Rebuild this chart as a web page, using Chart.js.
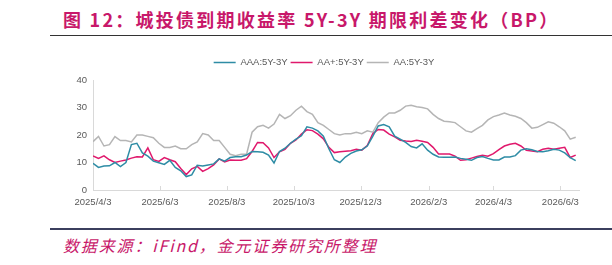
<!DOCTYPE html>
<html>
<head>
<meta charset="utf-8">
<script src="https://cdn.jsdelivr.net/npm/chart.js@4/dist/chart.umd.min.js"></script>
<style>
  html, body { margin: 0; padding: 0; background: #fff; }
  body { width: 612px; height: 265px; position: relative; overflow: hidden; }
  #title { position: absolute; left: 63px; top: 10px; font: bold 18px/18px "Noto Sans CJK SC", sans-serif; color: #c8186a; letter-spacing: 2.25px; white-space: nowrap; }
  #topline { position: absolute; left: 50px; top: 35px; width: 562px; height: 1px; background: #333; }
  #bottomline { position: absolute; left: 50px; top: 228px; width: 562px; height: 2px; background: #3b3f5e; }
  #source { position: absolute; left: 63px; top: 236px; font: italic 16px/18px "Noto Sans CJK SC", sans-serif; color: #c8186a; letter-spacing: 1.85px; white-space: nowrap; }
  #chart { position: absolute; left: 0; top: 40px; }
</style>
</head>
<body>
<div id="title">图 12：城投债到期收益率 5Y-3Y 期限利差变化（BP）</div>
<div id="topline"></div>
<canvas id="chart" width="612" height="175"></canvas>
<div id="bottomline"></div>
<div id="source">数据来源：iFind，金元证券研究所整理</div>
<script>
// days counted from 2025/4/3
const days = [
  0, 5, 10, 15, 20, 25, 30, 35, 40, 45,
  50, 55, 60, 65, 70, 75, 80, 85, 90, 95,
  100, 105, 110, 115, 120, 125, 130, 135, 140, 145,
  150, 155, 160, 165, 170, 175, 180, 185, 190, 195,
  200, 205, 210, 215, 220, 225, 230, 235, 240, 245,
  250, 255, 260, 265, 270, 275, 280, 285, 290, 295,
  300, 305, 310, 315, 320, 325, 330, 335, 340, 345,
  350, 355, 360, 365, 370, 375, 380, 385, 390, 395,
  400, 405, 410, 415, 420, 425, 430, 435, 440
];

const aaa = [
  9.7, 8.2, 8.7, 8.8, 10, 8.5, 10, 16.5, 17, 13.5,
  12.3, 10.5, 9.9, 9.3, 10.8, 8.2, 7, 4.9, 5.5, 9,
  8.7, 9.1, 9.5, 11.3, 10.5, 11.8, 12.1, 12.1, 12.7, 14,
  13.9, 13.7, 12.7, 9.8, 14, 15.2, 17, 18.5, 19.7, 23,
  22.5, 21.5, 19.6, 15, 11, 10, 12, 13.3, 14.2, 14.6,
  16, 19.5, 23.3, 23.8, 23, 19.6, 18.5, 17.3, 15.8, 15.3,
  16.8, 14.5, 13, 12, 11.9, 11.9, 12, 11.5, 11.2, 10.8,
  11.8, 12.2, 11.5, 10.9, 10.9, 12, 12, 12.5, 14.5, 15,
  14.6, 14, 13.9, 14.3, 14.8, 14.5, 13.5, 11.8, 10.7
];

const aaPlus = [
  12.4, 11.5, 12.4, 11, 10, 10.5, 10.9, 11.6, 12.1, 12,
  15.3, 11, 10.4, 11.8, 11, 10.3, 7.8, 5.6, 7.7, 8.6,
  6.8, 7.8, 9.1, 11.3, 10.2, 10.9, 10.8, 10.8, 11.4, 14,
  17.3, 17.2, 15.3, 11.8, 13.9, 14.8, 17, 18.2, 20.3, 21.9,
  21.6, 20.3, 18.6, 15.5, 13.6, 13.9, 14.1, 14.3, 14.8, 14.5,
  16.2, 20.5, 22, 21.8, 20.3, 19.3, 18.1, 17.8, 17.6, 18.1,
  17.7, 17.3, 15.5, 13.1, 13.1, 13.1, 12.3, 10.8, 11, 11.6,
  12.2, 12.6, 12.3, 13.2, 14.7, 16, 16.6, 17, 16, 14.4,
  14.2, 13.9, 14.8, 15.2, 14.8, 15.2, 15.5, 11.8, 12.7
];

const aa = [
  17.6, 19.5, 16, 16.5, 19.4, 18, 18, 17.5, 20, 20,
  19.5, 19, 17, 15.5, 15.5, 16, 15, 15, 16.5, 17.5,
  20.5, 20, 18, 18, 15.5, 13, 12.5, 13, 13, 21,
  23, 23.5, 22.5, 24, 27.5, 26, 27, 29, 30.5, 28.5,
  27.5, 24.5, 23.5, 22, 20.5, 20, 20.5, 20.5, 21, 20.5,
  21.5, 21, 24.5, 26.5, 28, 28, 29, 30.5, 30.8, 30.3,
  30, 29.5, 27.5, 26, 25, 24.8, 24.5, 23, 21.5, 21,
  22.3, 23.5, 25.5, 26.7, 27.3, 28, 27.3, 26.8, 26, 24.5,
  22.5, 22.8, 23.8, 24.8, 24.3, 23, 21.5, 18.5, 19.2
];

const tickDays = [0, 61, 122, 183, 244, 306, 365, 426];
const tickLabels = ['2025/4/3', '2025/6/3', '2025/8/3', '2025/10/3', '2025/12/3', '2026/2/3', '2026/4/3', '2026/6/3'];

const textColor = '#595959';
const axisColor = '#d9d9d9';
const tickFont = { family: 'Liberation Sans', size: 9.5 };

function toPoints(values) {
  return values.map((v, i) => ({ x: days[i], y: v }));
}

// push the plot area a bit lower than the legend
const legendSpace = {
  id: 'legendSpace',
  beforeInit(chart) {
    const fit = chart.legend.fit;
    chart.legend.fit = function () {
      fit.call(this);
      this.height += 2.75;
    };
  }
};

// small tick marks pointing up into the plot
const innerTicks = {
  id: 'innerTicks',
  afterDraw(chart) {
    const { ctx, chartArea } = chart;
    const x = chart.scales.x;
    ctx.save();
    ctx.strokeStyle = axisColor;
    ctx.lineWidth = 1;
    x.ticks.forEach(t => {
      const px = Math.round(x.getPixelForValue(t.value)) + 0.5;
      ctx.beginPath();
      ctx.moveTo(px, chartArea.bottom);
      ctx.lineTo(px, chartArea.bottom - 4);
      ctx.stroke();
    });
    ctx.restore();
  }
};

new Chart(document.getElementById('chart'), {
  type: 'line',
  data: {
    datasets: [
      { label: 'AAA:5Y-3Y', data: toPoints(aaa), borderColor: '#2e8ca5', backgroundColor: '#2e8ca5', borderWidth: 1.5 },
      { label: 'AA+:5Y-3Y', data: toPoints(aaPlus), borderColor: '#e0186c', backgroundColor: '#e0186c', borderWidth: 1.5 },
      { label: 'AA:5Y-3Y', data: toPoints(aa), borderColor: '#b5b5b5', backgroundColor: '#b5b5b5', borderWidth: 1.5 }
    ]
  },
  options: {
    responsive: false,
    animation: false,
    elements: { point: { radius: 0 }, line: { tension: 0 } },
    layout: { padding: { left: 69, right: 33, top: 14.75, bottom: 0 } },
    plugins: {
      legend: {
        position: 'top',
        labels: {
          usePointStyle: true,
          pointStyle: 'line',
          pointStyleWidth: 22,
          padding: 3,
          color: textColor,
          font: { family: 'Liberation Sans', size: 9.5 }
        }
      },
      tooltip: { enabled: false }
    },
    scales: {
      x: {
        type: 'linear',
        min: 0,
        max: 443,
        afterBuildTicks: s => { s.ticks = tickDays.map(v => ({ value: v })); },
        afterFit: s => { s.height = 25; },
        ticks: {
          autoSkip: false,
          maxRotation: 0,
          padding: 7,
          color: textColor,
          font: tickFont,
          callback: v => tickLabels[tickDays.indexOf(v)]
        },
        grid: { display: false, drawTicks: false },
        border: { display: true, color: axisColor }
      },
      y: {
        min: 0,
        max: 40,
        afterFit: s => { s.width = 24; },
        ticks: { stepSize: 10, padding: 6, color: textColor, font: tickFont },
        grid: { display: false, drawTicks: false },
        border: { display: true, color: axisColor }
      }
    }
  },
  plugins: [legendSpace, innerTicks]
});
</script>
</body>
</html>
